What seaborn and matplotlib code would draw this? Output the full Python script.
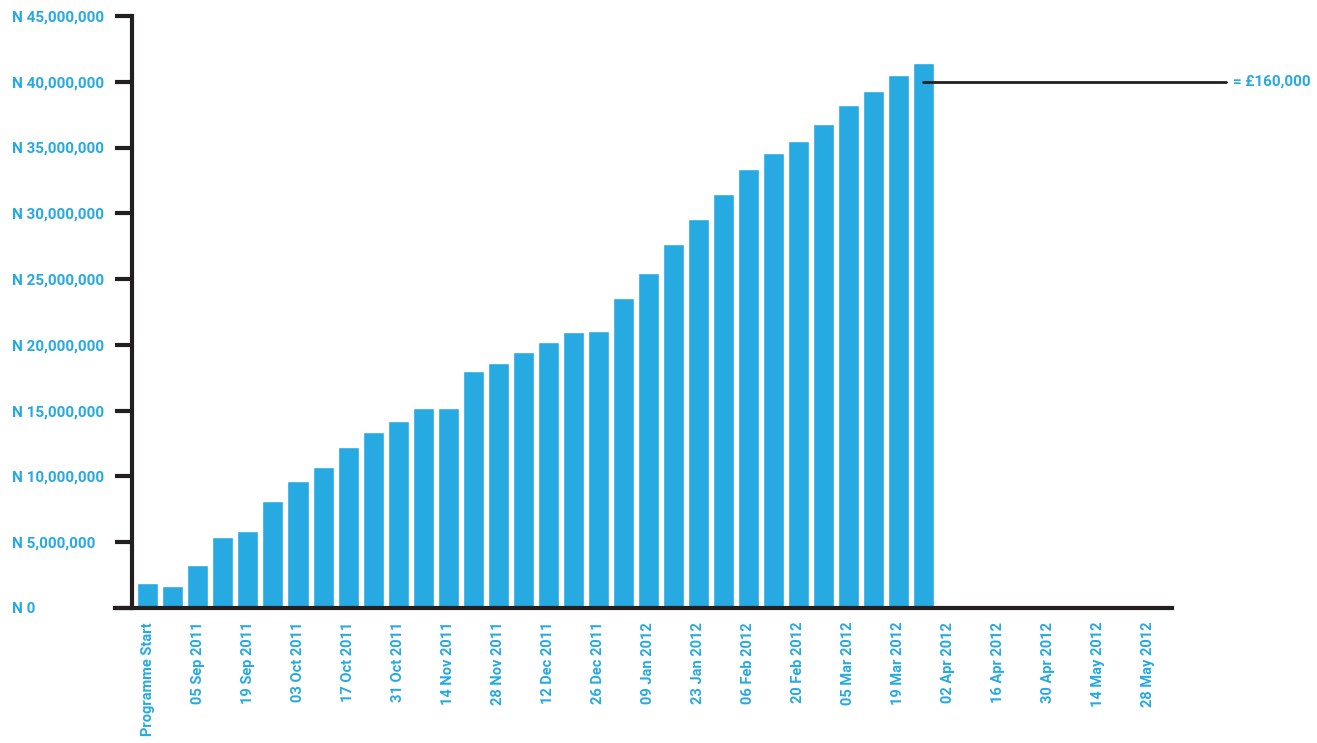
import numpy as np
import pandas as pd
import matplotlib
matplotlib.use("Agg")
import matplotlib.pyplot as plt
import seaborn as sns

sns.set_theme(style="white")
plt.rcParams['font.family'] = ['Roboto', 'DejaVu Sans']

blue = "#27a9e1"
dark = "#231f20"

#%% dados
weeks = pd.date_range("2011-08-22", "2012-05-28", freq="7D")
labels = ["Programme Start"] + [d.strftime("%d %b %Y") for d in weeks[1:]]

# valor acumulado (N), um por semana
values = [1.90e6, 1.67e6, 3.27e6, 5.40e6, 5.85e6, 8.13e6, 9.65e6, 10.7e6,
          12.2e6, 13.4e6, 14.2e6, 15.2e6, 15.2e6, 18.0e6, 18.6e6, 19.45e6,
          20.2e6, 20.97e6, 21.05e6, 23.6e6, 25.45e6, 27.7e6, 29.6e6, 31.5e6,
          33.35e6, 34.6e6, 35.5e6, 36.8e6, 38.2e6, 39.3e6, 40.5e6, 41.4e6]
values = values + [np.nan] * (len(labels) - len(values))

yticks = np.arange(0, 45e6 + 1, 5e6)
ytick_labels = ["N 0"] + ["N {:,.0f}".format(v) for v in yticks[1:]]

ref_value = 40e6
ref_text = "= £160,000"

df = pd.DataFrame({"week": labels, "value": values})

#%% figura
fig = plt.figure(figsize=(13.17, 7.43), dpi=100)
ax = fig.add_axes([0.0873, 0.1817, 0.890 - 0.0873, 0.9785 - 0.1817])

sns.barplot(data=df, x="week", y="value", order=labels, color=blue,
            saturation=1, width=0.84, ax=ax)

ax.set_xlim(-1.32, 40.96)
ax.set_ylim(0, 45e6)

for s in ["top", "right"]:
    ax.spines[s].set_visible(False)
ax.spines["left"].set_position(("data", -0.64))
for s in ["left", "bottom"]:
    ax.spines[s].set_linewidth(3)
    ax.spines[s].set_color(dark)
ax.spines["left"].set_zorder(0.5)

ax.set_yticks(yticks)
ax.set_yticklabels(ytick_labels)
ax.tick_params(axis="y", length=12.5, width=3, color=dark, pad=74,
               labelsize=11, labelcolor=blue, left=True)
for t in ax.get_yticklabels():
    t.set_fontweight("bold")
    t.set_horizontalalignment("left")

ticks = list(range(0, len(labels), 2))
ax.set_xticks(ticks)
ax.set_xticklabels([labels[i] for i in ticks], rotation=90, va="top", ha="center")
ax.tick_params(axis="x", length=0, pad=10, labelsize=10.5, labelcolor=blue)
for t in ax.get_xticklabels():
    t.set_fontweight("bold")

ax.set_xlabel("")
ax.set_ylabel("")
ax.grid(False)

# linha de referência
last = len([v for v in values if not np.isnan(v)]) - 1
ax.plot([last, 43.1], [ref_value, ref_value], color=dark, lw=2, clip_on=False)
ax.text(43.4, ref_value, ref_text, color=blue, fontsize=11, fontweight="bold",
        va="center", ha="left", clip_on=False)

plt.savefig("out.png", dpi=100)
